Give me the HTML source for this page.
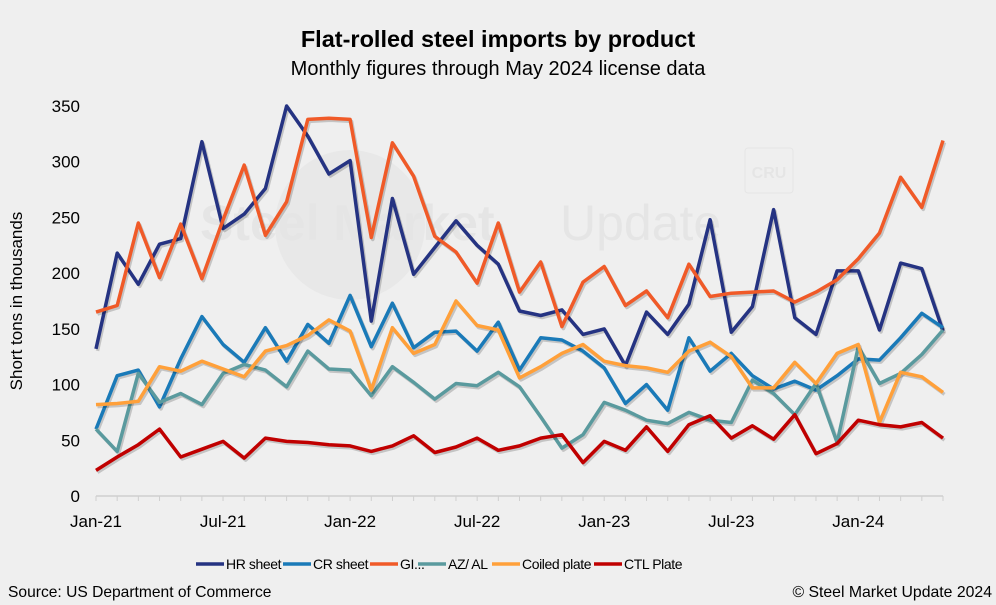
<!DOCTYPE html>
<html><head><meta charset="utf-8"><style>
body{margin:0;background:#efefef;font-family:"Liberation Sans",Arial,sans-serif;}
svg{display:block}
</style></head><body>
<svg width="996" height="605" xmlns="http://www.w3.org/2000/svg">
<rect width="996" height="605" fill="#efefef"/>
<text x="498" y="47" text-anchor="middle" font-size="23.5" font-weight="bold" fill="#000">Flat-rolled steel imports by product</text>
<text x="498" y="75" text-anchor="middle" font-size="20" fill="#000">Monthly figures through May 2024 license data</text>
<g opacity="0.06">
<circle cx="350" cy="225" r="75" fill="#888"/>
<text x="200" y="240" font-size="50" font-weight="bold" fill="#555">Steel Market</text>
<text x="560" y="240" font-size="50" fill="#555">Update</text>
<rect x="745" y="148" width="48" height="45" rx="3" fill="none" stroke="#555"/>
<text x="769" y="178" text-anchor="middle" font-size="16" font-weight="bold" fill="#555">CRU</text>
</g>
<text transform="translate(22,301) rotate(-90)" text-anchor="middle" font-size="17" fill="#000">Short tons in thousands</text>
<g id="yaxis"></g>
<g id="xaxis"></g>
<g id="series"></g>
<g id="legend"></g>
<text x="8" y="597" font-size="15.6" fill="#000">Source: US Department of Commerce</text>
<text x="992" y="597" text-anchor="end" font-size="15.8" fill="#000">© Steel Market Update 2024</text>
</svg>
<script>
const yTicks=[0,50,100,150,200,250,300,350];
const xTickLabels=["Jan-21","Jul-21","Jan-22","Jul-22","Jan-23","Jul-23","Jan-24"];
const xTickIndex=[0,6,12,18,24,30,36];
const monthCount=41;
const hrSheet=[132,218,190,226,231,318,240,253,276,350,323,289,301,157,267,199,223,247,225,208,166,162,167,145,150,117,165,145,172,248,147,170,257,160,145,202,202,149,209,204,148];
const crSheet=[60,108,113,80,123,161,136,120,151,121,154,137,180,134,173,133,147,148,130,156,113,142,140,130,115,83,100,77,142,112,128,108,96,103,95,108,123,122,142,164,151];
const giSheet=[165,171,245,196,244,195,248,297,234,264,338,339,338,232,317,287,233,219,191,245,183,210,152,192,206,171,184,160,208,179,182,183,184,174,183,194,213,236,286,259,319];
const azAl=[60,40,110,84,92,82,110,118,113,98,130,114,113,90,116,102,87,101,99,111,98,71,43,55,84,77,68,65,75,68,66,104,92,73,101,48,134,101,110,127,149];
const coiledPlate=[82,83,85,116,112,121,114,107,130,135,144,158,148,95,151,128,136,175,153,149,106,116,128,136,121,117,115,111,130,138,125,97,97,120,101,128,136,66,111,107,93];
const ctlPlate=[23,35,46,60,35,42,49,34,52,49,48,46,45,40,45,54,39,44,52,41,45,52,55,30,49,41,62,40,64,72,52,63,51,73,38,47,68,64,62,66,52];
const seriesNames=["HR sheet","CR sheet","GI...","AZ/ AL","Coiled plate","CTL Plate"];
const seriesColors=["#253382","#1a7ab8","#f05a28","#5a9a9e","#ffa03a","#c00000"];
const seriesKeys=["hr-sheet","cr-sheet","gi","az-al","coiled-plate","ctl-plate"];
const seriesData=[hrSheet,crSheet,giSheet,azAl,coiledPlate,ctlPlate];
const NS="http://www.w3.org/2000/svg";
const x0=96,x1=943,y0=496,y1=106;
function xs(i){return x0+(x1-x0)*i/(monthCount-1);}
function ys(v){return y0-(y0-y1)*v/350;}
function mk(t,a,p){const e=document.createElementNS(NS,t);for(const k in a)e.setAttribute(k,a[k]);p.appendChild(e);return e;}
const ya=document.getElementById('yaxis');
yTicks.forEach(v=>{const t=mk('text',{x:80,y:ys(v)+6,'text-anchor':'end','font-size':17,fill:'#000'},ya);t.textContent=v;

});
const xa=document.getElementById('xaxis');
const al=mk('line',{x1:x0,y1:y0,x2:x1,y2:y0,stroke:'#cfcfcf','stroke-width':1.5},xa);


for(let i=0;i<monthCount;i++){const tk=mk('line',{x1:xs(i),y1:y0,x2:xs(i),y2:y0+5,stroke:'#cfcfcf','stroke-width':1},xa);

}
xTickLabels.forEach((l,j)=>{const t=mk('text',{x:xs(xTickIndex[j]),y:527,'text-anchor':'middle','font-size':17,fill:'#000'},xa);t.textContent=l;

});
const sg=document.getElementById('series');
seriesData.forEach((d,s)=>{const pts=d.map((v,i)=>xs(i).toFixed(1)+','+ys(v).toFixed(1)).join(' ');
const sh=mk('polyline',{points:pts,fill:'none',stroke:'rgba(0,0,0,0.18)','stroke-width':3.5,'stroke-linejoin':'round',transform:'translate(1.5,2)'},sg);


const p=mk('polyline',{points:pts,fill:'none',stroke:seriesColors[s],'stroke-width':3.5,'stroke-linejoin':'round'},sg);

});
const lg=document.getElementById('legend');
const lx=[196,283,370,418,492,594];
seriesNames.forEach((n,s)=>{const g=mk('g',{},lg);


mk('line',{x1:lx[s],y1:564,x2:lx[s]+28,y2:564,stroke:seriesColors[s],'stroke-width':3.5},g);
const t=mk('text',{x:lx[s]+30,y:569,'font-size':14,'letter-spacing':'-0.4',fill:'#000'},g);t.textContent=n;});
</script>
</body></html>
